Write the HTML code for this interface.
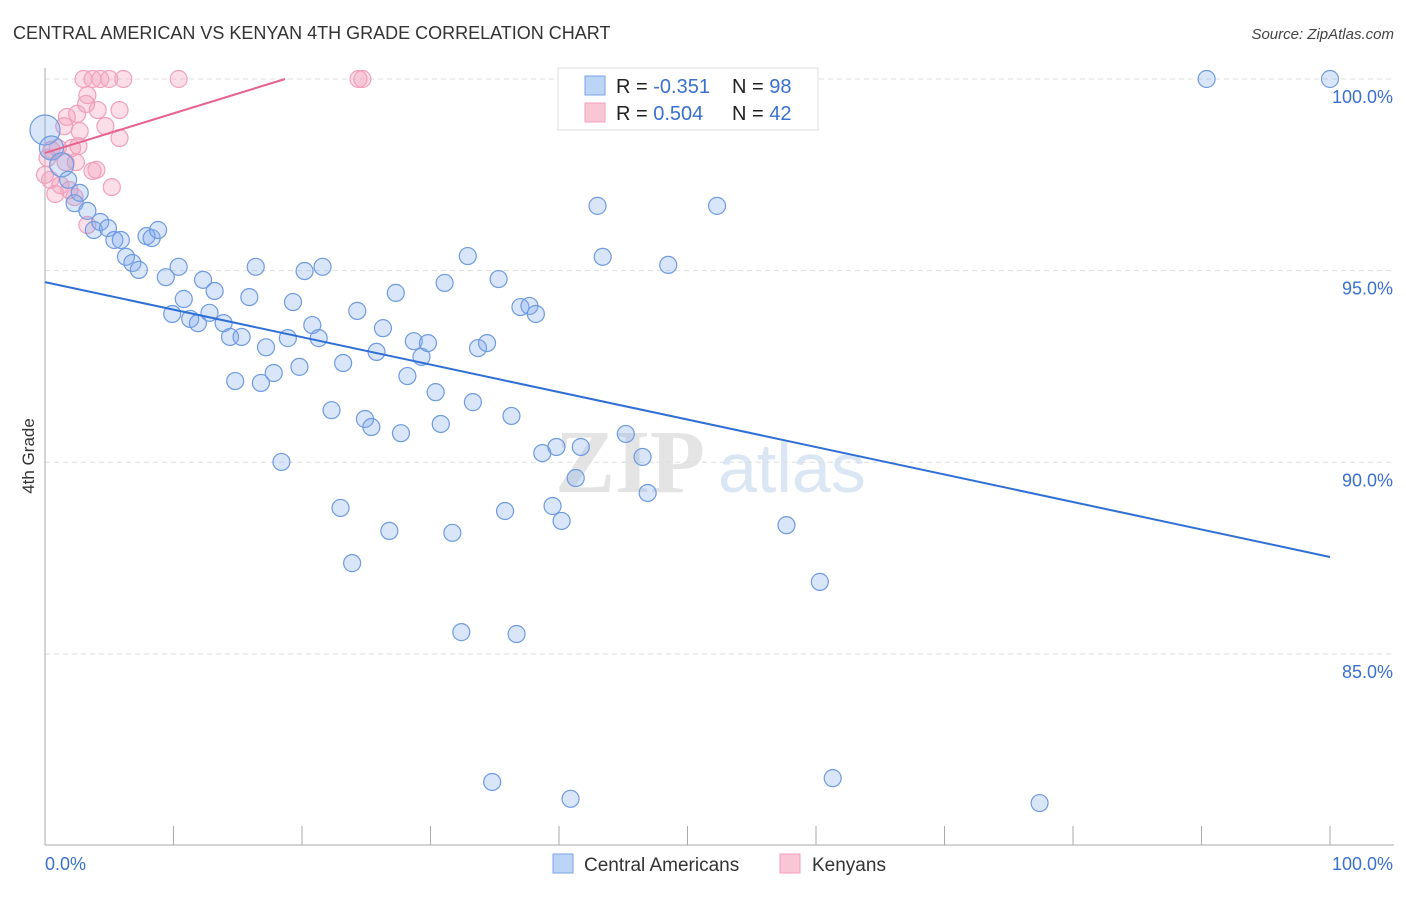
<!DOCTYPE html>
<html><head><meta charset="utf-8">
<style>
html,body{margin:0;padding:0;background:#fff;}
body{width:1406px;height:892px;overflow:hidden;font-family:"Liberation Sans",sans-serif;}
</style></head>
<body>
<svg id="chart" width="1406" height="892" xmlns="http://www.w3.org/2000/svg">
<text x="13" y="39" font-size="18" fill="#333" font-family="Liberation Sans">CENTRAL AMERICAN VS KENYAN 4TH GRADE CORRELATION CHART</text>
<text x="1394" y="39" font-size="15" fill="#444" text-anchor="end" font-style="italic">Source: ZipAtlas.com</text>
<text x="34" y="456" font-size="17" fill="#333" text-anchor="middle" transform="rotate(-90 34 456)">4th Grade</text>
<g>
<text x="555" y="492" font-size="90" fill="#e4e4e4" font-family="Liberation Serif" font-weight="bold">ZIP</text>
<text x="718" y="492" font-size="70" fill="#dbe6f5" font-family="Liberation Sans">atlas</text>
</g>
<g id="grid"></g>
<g id="axes"></g>
<g id="pts"></g>
<g id="lines"></g>
<g>
<rect x="558" y="68" width="260" height="62" fill="#fff" stroke="#ddd"/>
<rect x="585" y="76" width="20" height="19" fill="#bcd4f6" stroke="#7aa3e5"/>
<rect x="585" y="103" width="20" height="19" fill="#f9c6d5" stroke="#f2a0bb"/>
<text x="616" y="93" font-size="20" fill="#222">R = <tspan fill="#3a70d0">-0.351</tspan></text>
<text x="732" y="93" font-size="20" fill="#222">N = <tspan fill="#3a70d0">98</tspan></text>
<text x="616" y="120" font-size="20" fill="#222">R = <tspan fill="#3a70d0">0.504</tspan></text>
<text x="732" y="120" font-size="20" fill="#222">N = <tspan fill="#3a70d0">42</tspan></text>
</g>
<g>
<rect x="553" y="854" width="20" height="19" fill="#bcd4f6" stroke="#7aa3e5"/>
<text x="584" y="871" font-size="19" fill="#333">Central Americans</text>
<rect x="780" y="854" width="20" height="19" fill="#f9c6d5" stroke="#f2a0bb"/>
<text x="812" y="871" font-size="19" fill="#333">Kenyans</text>
</g>
</svg>
<script>
const yTicks=[100,95,90,85];
const yTickLabels=["100.0%","95.0%","90.0%","85.0%"];
const xTicks=[0,10,20,30,40,50,60,70,80,90,100];
const blueX=[90.4,100,0,0.5,1.3,1.8,2.7,2.3,3.3,3.8,4.3,4.9,5.4,5.9,6.3,6.8,7.3,7.9,8.3,8.8,9.4,9.9,10.4,10.8,11.3,11.9,12.3,12.8,13.2,13.9,14.4,15.3,14.8,15.9,16.4,16.8,17.2,17.8,18.4,18.9,19.3,19.8,20.2,20.8,21.3,21.6,22.3,23.0,23.2,23.9,24.3,24.9,25.4,25.8,26.3,26.8,27.3,27.7,28.2,28.7,29.3,29.8,30.4,30.8,31.1,31.7,32.4,32.9,33.3,33.7,34.4,34.8,35.3,35.8,36.3,36.7,37.0,37.7,38.2,38.7,39.5,39.8,40.2,40.9,41.3,41.7,43.0,43.4,45.2,46.5,46.9,48.5,52.3,57.7,60.3,61.3,77.4,49.0];
const blueY=[100,100,98.67,98.2,97.76,97.37,97.03,96.76,96.56,96.06,96.27,96.11,95.8,95.8,95.36,95.2,95.02,95.9,95.85,96.06,94.83,93.87,95.1,94.26,93.74,93.63,94.76,93.9,94.47,93.63,93.27,93.27,92.12,94.31,95.1,92.07,93.0,92.33,90.01,93.24,94.18,92.49,94.99,93.58,93.24,95.1,91.36,88.81,92.59,87.37,93.95,91.13,90.92,92.88,93.5,88.21,94.42,90.76,92.25,93.16,92.75,93.11,91.83,91.0,94.68,88.16,85.57,95.38,91.57,92.98,93.11,81.66,94.78,88.73,91.21,85.52,94.05,94.08,93.87,90.24,88.86,90.4,88.47,81.22,89.59,90.4,96.69,95.36,90.74,90.14,89.2,95.15,96.69,88.36,86.88,81.76,81.11,99.9];
const pinkX=[3.0,3.7,4.3,5.0,6.1,10.4,24.4,24.7,3.3,3.2,1.7,2.5,4.1,5.8,1.5,2.7,4.7,5.8,0.5,1.0,2.1,2.6,0.2,1.6,2.4,4.0,3.7,5.2,0.4,1.2,1.9,0.8,2.3,3.3,0];
const pinkY=[100,100,100,100,100,100,100,100,99.58,99.35,99.01,99.09,99.19,99.19,98.77,98.64,98.77,98.46,98.15,98.2,98.2,98.25,97.94,97.83,97.83,97.63,97.6,97.18,97.37,97.23,97.1,97.0,96.92,96.19,97.5];
const blueTrend=[94.70,87.53];
const pinkTrend=[98.07,108.4];
const NS="http://www.w3.org/2000/svg";
const X=v=>45+v*12.85, Y=v=>79+(100-v)*38.33;
function mk(tag,attrs,parent){const e=document.createElementNS(NS,tag);for(const k in attrs)e.setAttribute(k,attrs[k]);document.getElementById(parent).appendChild(e);return e;}
yTicks.forEach((t,i)=>{
 const l=mk('line',{x1:45,x2:1394,y1:Y(t),y2:Y(t),stroke:'#ddd','stroke-dasharray':'5,4'},'grid');
 
 
 const tx=mk('text',{x:1393,y:Y(t)+24,'font-size':18,fill:'#3a70d0','text-anchor':'end'},'grid');
 tx.textContent=yTickLabels[i];
 
 
});
const ya=mk('line',{x1:45,x2:45,y1:68,y2:845,stroke:'#aaa'},'axes');


const xa=mk('line',{x1:45,x2:1394,y1:845,y2:845,stroke:'#aaa'},'axes');


xTicks.forEach(t=>{const l=mk('line',{x1:X(t),x2:X(t),y1:826,y2:845,stroke:'#aaa'},'axes');
 
 });
const xl0=mk('text',{x:45,y:870,'font-size':18,fill:'#3a70d0'},'axes');xl0.textContent='0.0%';


const xl1=mk('text',{x:1393,y:870,'font-size':18,fill:'#3a70d0','text-anchor':'end'},'axes');xl1.textContent='100.0%';


pinkX.forEach((v,i)=>{const c=mk('circle',{cx:X(v),cy:Y(pinkY[i]),r:8.5,fill:'rgba(244,160,188,0.35)',stroke:'#f0a0ba','stroke-width':1.2},'pts');
 
 });
blueX.forEach((v,i)=>{const big=v<1.5;const c=mk('circle',{cx:X(v),cy:Y(blueY[i]),r:big?(v===0?15:12):8.5,fill:'rgba(130,170,235,0.3)',stroke:'#6f9be0','stroke-width':1.2},'pts');
 
 });
const bl=mk('line',{x1:X(0),y1:Y(blueTrend[0]),x2:X(100),y2:Y(blueTrend[1]),stroke:'#2f6fd6','stroke-width':2},'lines');


const xEnd=(100-pinkTrend[0])/(pinkTrend[1]-pinkTrend[0])*100;
const pl=mk('line',{x1:X(0),y1:Y(pinkTrend[0]),x2:X(xEnd),y2:Y(100),stroke:'#e8628e','stroke-width':2},'lines');


</script>
</body></html>
